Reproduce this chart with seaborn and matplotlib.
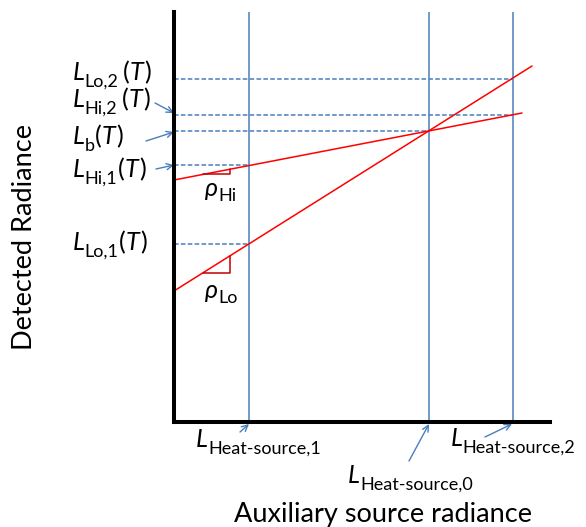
import numpy as np
import pandas as pd
import matplotlib
matplotlib.use("Agg")
import matplotlib.pyplot as plt
import seaborn as sns

# ---- data (in arbitrary radiance units) ----
source_names = ["Heat-source,1", "Heat-source,0", "Heat-source,2"]
source_x = [75, 255, 339]                 # auxiliary source radiances
hi_x = [0, 348]
hi_y = [242, 309]                         # high-emissivity response line
lo_x = [0, 358]
lo_y = [131, 356]                         # low-emissivity response line
level_names = ["Lo,2", "Hi,2", "b", "Hi,1", "Lo,1"]
level_y = [343, 307, 291, 257, 178]       # detected radiance levels
level_src = [2, 2, 1, 0, 0]               # which source each level refers to

BLUE = "#4A7EBB"
RED = "#FF0000"
DARKRED = "#C00000"

sns.set_theme(style="white")
plt.rcParams["font.family"] = ["Lato", "DejaVu Sans"]

W, H = 586, 527
fig = plt.figure(figsize=(W / 100, H / 100), dpi=100)
ax = fig.add_axes([174 / W, (H - 422) / H, (550 - 174) / W, (422 - 12) / H])
ax.set_xlim(0, 376)
ax.set_ylim(0, 410)
ax.set_xticks([])
ax.set_yticks([])
sns.despine(ax=ax)
for s in ("left", "bottom"):
    ax.spines[s].set_linewidth(2.9)
    ax.spines[s].set_color("black")
    ax.spines[s].set_zorder(5)

# vertical source lines
for sx in source_x:
    ax.axvline(sx, color=BLUE, lw=1.1, zorder=1)

# dashed level lines
for ly, si in zip(level_y, level_src):
    ax.hlines(ly, 0, source_x[si], colors=BLUE, linestyles=(0, (3, 1.5)), lw=1.1, zorder=1)

# response lines
df = pd.DataFrame({"x": hi_x + lo_x, "y": hi_y + lo_y,
                   "line": ["Hi"] * len(hi_x) + ["Lo"] * len(lo_x)})
sns.lineplot(data=df, x="x", y="y", hue="line", palette={"Hi": RED, "Lo": RED},
             legend=False, ax=ax, lw=1.1, zorder=3)
ax.set_xlabel("")
ax.set_ylabel("")

# slope triangles
for lx, ly in ((hi_x, hi_y), (lo_x, lo_y)):
    y0 = np.interp(29, lx, ly)
    y1 = np.interp(56, lx, ly)
    ax.plot([29, 56, 56], [y0, y0, y1], color=DARKRED, lw=1.1, zorder=3)

renderer = fig.canvas.get_renderer()


def rich(x, yb, pieces):
    for txt, it, size, dy, dx in pieces:
        x += dx
        t = fig.text(x / W, (H - (yb + dy)) / H, txt, fontsize=size,
                     fontstyle="italic" if it else "normal",
                     ha="left", va="baseline", color="black")
        x = t.get_window_extent(renderer).x1


BIG, SUB = 18, 13
rich(73, 80, [("L", 1, BIG, 0, 0), ("Lo,2", 0, SUB, 7, 0), ("(", 0, BIG, 0, 4), ("T", 1, BIG, 0, 0), (")", 0, BIG, 0, 1)])
rich(73, 107, [("L", 1, BIG, 0, 0), ("Hi,2", 0, SUB, 7, 0), ("(", 0, BIG, 0, 4), ("T", 1, BIG, 0, 0), (")", 0, BIG, 0, 1)])
rich(73, 144, [("L", 1, BIG, 0, 0), ("b", 0, SUB, 7, 0), ("(", 0, BIG, 0, 0), ("T", 1, BIG, 0, 0), (")", 0, BIG, 0, 1)])
rich(73, 177, [("L", 1, BIG, 0, 0), ("Hi,1", 0, SUB, 7, 0), ("(", 0, BIG, 0, 0), ("T", 1, BIG, 0, 0), (")", 0, BIG, 0, 1)])
rich(73, 250, [("L", 1, BIG, 0, 0), ("Lo,1", 0, SUB, 7, 0), ("(", 0, BIG, 0, 0), ("T", 1, BIG, 0, 0), (")", 0, BIG, 0, 1)])

rich(205, 196, [("ρ", 1, BIG, 0, 0), ("Hi", 0, SUB, 5, 0)])
rich(205, 298, [("ρ", 1, BIG, 0, 0), ("Lo", 0, SUB, 5, 0)])

rich(196, 447, [("L", 1, BIG, 0, 0), (source_names[0], 0, SUB, 7, 0)])
rich(348, 483, [("L", 1, BIG, 0, 0), (source_names[1], 0, SUB, 7, 0)])
rich(451, 446, [("L", 1, BIG, 0, 0), (source_names[2], 0, SUB, 7, 0)])

# arrows (figure pixel coordinates)
arrows = [((155, 103), (174, 113)), ((146, 141), (174, 132)), ((156, 169), (174, 165)),
          ((240, 432), (249, 424)), ((409, 461), (429, 424)), ((485, 437), (512, 424))]
for (tx, ty), (hx, hy) in arrows:
    ax.annotate("", xy=(hx, H - hy), xycoords="figure pixels",
                xytext=(tx, H - ty), textcoords="figure pixels",
                arrowprops=dict(arrowstyle="->", color=BLUE, lw=1.0,
                                shrinkA=0, shrinkB=0, mutation_scale=11),
                annotation_clip=False)

fig.text(383 / W, (H - 522) / H, "Auxiliary source radiance", ha="center",
         va="baseline", fontsize=19.5, color="black")
fig.text(25 / W, (H - 237) / H, "Detected Radiance", ha="center", va="center",
         rotation=90, fontsize=19.5, color="black")

fig.savefig("out.png", dpi=100)
